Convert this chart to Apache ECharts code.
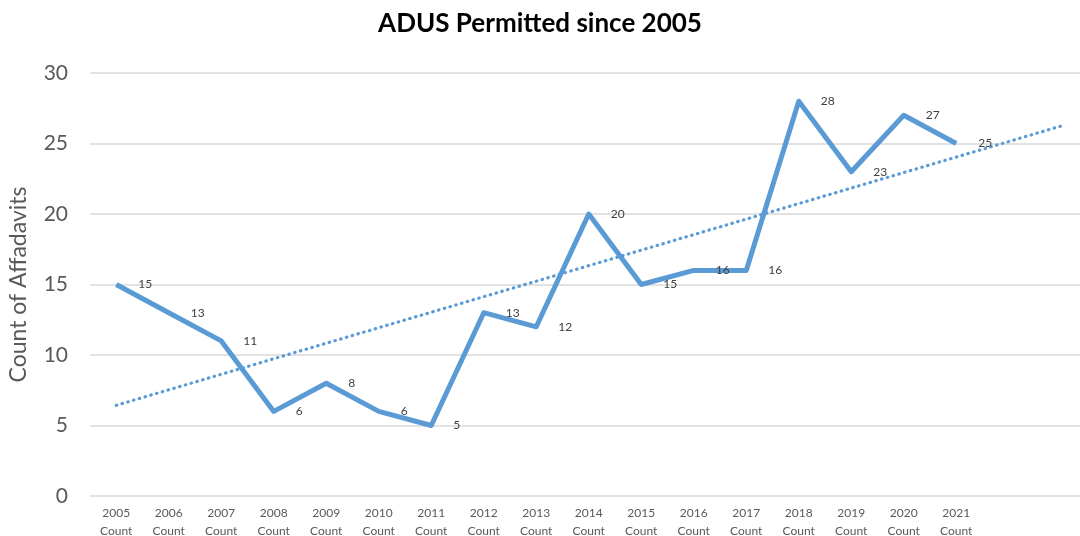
<!DOCTYPE html>
<html>
<head>
<meta charset="utf-8">
<script src="https://cdn.jsdelivr.net/npm/echarts@6/dist/echarts.min.js"></script>
<style>
  html, body { margin: 0; padding: 0; background: #fff; }
  #chart { width: 1080px; height: 536px; }
</style>
</head>
<body>
<div id="chart"></div>
<script>
// Yearly ADU counts
const years = ['2005','2006','2007','2008','2009','2010','2011','2012','2013','2014','2015','2016','2017','2018','2019','2020','2021'];
const counts = [15, 13, 11, 6, 8, 6, 5, 13, 12, 20, 15, 16, 16, 28, 23, 27, 25];
const yTicks = [0, 5, 10, 15, 20, 25, 30];
// trendline runs two periods past the last year
const forecastPeriods = 2;

const categories = years.map(y => y + '\nCount');
for (let i = 0; i < forecastPeriods; i++) categories.push('');

// least-squares linear trend over the observed years
const n = counts.length;
const xs = counts.map((_, i) => i + 1);
const mx = xs.reduce((a, b) => a + b, 0) / n;
const my = counts.reduce((a, b) => a + b, 0) / n;
let sxy = 0, sxx = 0;
for (let i = 0; i < n; i++) { sxy += (xs[i] - mx) * (counts[i] - my); sxx += (xs[i] - mx) ** 2; }
const slope = sxy / sxx;
const intercept = my - slope * mx;
const trend = categories.map((_, i) => +(intercept + slope * (i + 1)).toFixed(3));

const font = 'Lato, "Open Sans", sans-serif';
const chart = echarts.init(document.getElementById('chart'));
chart.setOption({
  animation: false,
  textStyle: { fontFamily: font },
  title: {
    text: 'ADUS Permitted since 2005',
    left: 'center',
    top: 6,
    textStyle: { fontSize: 26, fontWeight: 'bold', color: '#000', fontFamily: font }
  },
  grid: { left: 90, top: 73, width: 997.5, height: 423, outerBoundsMode: 'none', containLabel: false },
  xAxis: {
    type: 'category',
    data: categories,
    boundaryGap: true,
    axisLine: { show: false },
    axisTick: { show: false },
    axisLabel: { color: '#595959', fontSize: 12, lineHeight: 18, margin: 8, interval: 0 }
  },
  yAxis: {
    type: 'value',
    min: yTicks[0],
    max: yTicks[yTicks.length - 1],
    interval: 5,
    name: 'Count of Affadavits',
    nameLocation: 'middle',
    nameGap: 60,
    nameTextStyle: { fontSize: 23, color: '#595959' },
    axisLabel: { color: '#595959', fontSize: 21, margin: 22 },
    splitLine: { lineStyle: { color: '#d9d9d9', width: 1.5 } }
  },
  series: [
    {
      name: 'Count',
      type: 'line',
      data: counts,
      symbol: 'circle',
      symbolSize: 0.1,
      showSymbol: true,
      itemStyle: { color: 'transparent' },
      lineStyle: { color: '#5b9bd5', width: 5, join: 'round' },
      label: {
        show: true,
        position: 'right',
        distance: 22,
        fontSize: 12,
        color: '#404040'
      },
      labelLayout: { hideOverlap: false },
      z: 3
    },
    {
      name: 'Trend',
      type: 'line',
      data: trend,
      symbol: 'none',
      lineStyle: { color: '#5b9bd5', width: 3.2, type: [0.5, 5.5], cap: 'round' },
      z: 2
    }
  ]
});
</script>
</body>
</html>
